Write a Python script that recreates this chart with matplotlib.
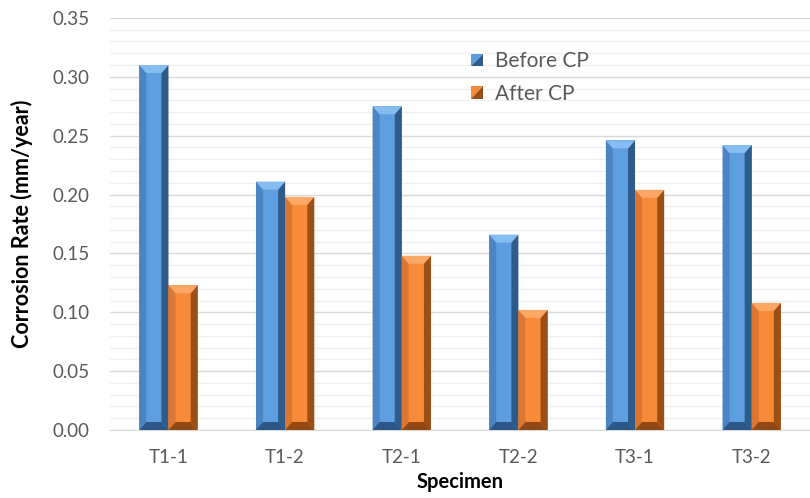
import numpy as np
import matplotlib
matplotlib.use("Agg")
import matplotlib.pyplot as plt
from matplotlib.patches import Polygon, Rectangle
from matplotlib.legend_handler import HandlerBase
from matplotlib.ticker import MultipleLocator

specimens = ["T1-1", "T1-2", "T2-1", "T2-2", "T3-1", "T3-2"]
before_cp = [0.310, 0.211, 0.275, 0.166, 0.246, 0.242]
after_cp = [0.123, 0.198, 0.148, 0.102, 0.204, 0.108]

plt.rcParams['font.family'] = ['Lato', 'DejaVu Sans']

# face colours for the bevelled look: main, left, right, top, bottom
blue = dict(main='#5d9ee0', left='#4b84c2', right='#2f5b8b', top='#86bdf0', bottom='#2c5685')
orange = dict(main='#f78b3a', left='#dc7630', right='#9c4e17', top='#fba766', bottom='#924814')

fig = plt.figure(figsize=(8.1, 4.98), dpi=100)
ax = fig.add_axes([0.136, 0.1365, 0.864, 0.8275])

x = np.arange(len(specimens))
w = 0.25
ax.set_xlim(-0.5, len(specimens) - 0.5)
ax.set_ylim(0, 0.35)

# bevel size: horizontal in category units, vertical in data units (~7px / ~8px)
bx = 0.06
by = 0.0068


def bevel_bar(ax, x0, h, c):
    x1 = x0 + w
    ax.add_patch(Rectangle((x0, 0), w, h, facecolor=c['main'], edgecolor='none', zorder=3))
    ax.add_patch(Polygon([(x0, 0), (x0 + bx, by), (x0 + bx, h - by), (x0, h)],
                         facecolor=c['left'], edgecolor='none', zorder=4))
    ax.add_patch(Polygon([(x1, 0), (x1 - bx, by), (x1 - bx, h - by), (x1, h)],
                         facecolor=c['right'], edgecolor='none', zorder=4))
    ax.add_patch(Polygon([(x0, h), (x1, h), (x1 - bx, h - by), (x0 + bx, h - by)],
                         facecolor=c['top'], edgecolor='none', zorder=4))
    ax.add_patch(Polygon([(x0, 0), (x1, 0), (x1 - bx, by), (x0 + bx, by)],
                         facecolor=c['bottom'], edgecolor='none', zorder=4))


for xi, b, a in zip(x, before_cp, after_cp):
    bevel_bar(ax, xi - w, b, blue)
    bevel_bar(ax, xi, a, orange)

# gridlines
ax.yaxis.set_major_locator(MultipleLocator(0.05))
ax.yaxis.set_minor_locator(MultipleLocator(0.01))
ax.grid(axis='y', which='major', color='#d9d9d9', linewidth=1.0, zorder=0)
ax.grid(axis='y', which='minor', color='#f0f0f0', linewidth=1.0, zorder=0)
ax.set_axisbelow(True)

for s in ['top', 'right', 'left']:
    ax.spines[s].set_visible(False)
ax.spines['bottom'].set_color('#d9d9d9')

ax.set_xticks(x)
ax.set_xticklabels(specimens)
ax.tick_params(axis='both', which='both', length=0, labelsize=13.5, colors='#595959')
ax.tick_params(axis='x', pad=14)
ax.tick_params(axis='y', pad=15)
ax.yaxis.set_major_formatter(matplotlib.ticker.FormatStrFormatter('%.2f'))

ax.set_xlabel('Specimen', fontsize=14.5, fontweight='bold', labelpad=4)
ax.set_ylabel('Corrosion Rate (mm/year)', fontsize=15.5, fontweight='bold', labelpad=14)


class BevelHandler(HandlerBase):
    def create_artists(self, legend, orig, xd, yd, width, height, fontsize, trans):
        c = orig.colors
        s = height * 0.85
        x0 = xd + (width - s) / 2
        y0 = yd + (height - s) / 2
        t1 = Polygon([(x0, y0), (x0, y0 + s), (x0 + s, y0 + s)], facecolor=c['main'],
                     edgecolor='none', transform=trans)
        t2 = Polygon([(x0, y0), (x0 + s, y0), (x0 + s, y0 + s)], facecolor=c['right'],
                     edgecolor='none', transform=trans)
        return [t1, t2]


class Swatch:
    def __init__(self, colors):
        self.colors = colors


leg = ax.legend([Swatch(blue), Swatch(orange)], ['Before CP', 'After CP'],
                handler_map={Swatch: BevelHandler()},
                loc='upper left', bbox_to_anchor=(0.487, 0.965), frameon=False,
                fontsize=15, labelspacing=0.6, handlelength=0.7, handletextpad=0.5)
for t in leg.get_texts():
    t.set_color('#595959')

fig.savefig('out.png', dpi=100)
